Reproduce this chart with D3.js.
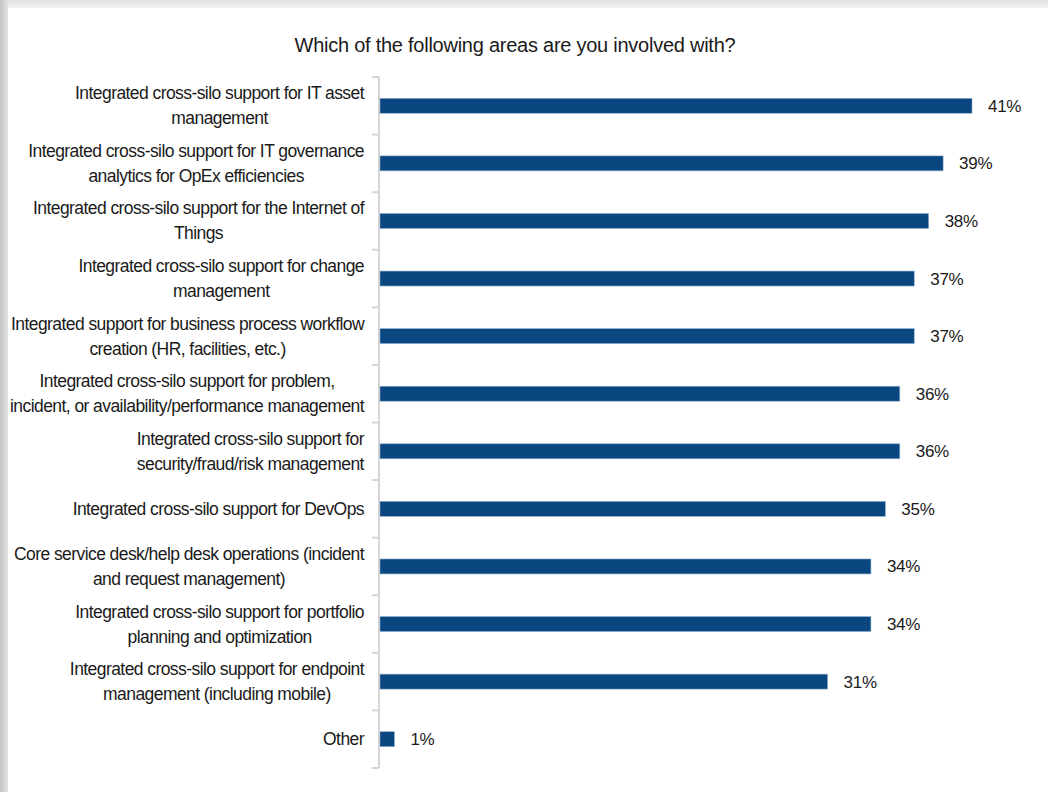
<!DOCTYPE html>
<html>
<head>
<meta charset="utf-8">
<script src="https://cdn.jsdelivr.net/npm/d3@7"></script>
<style>
	body { margin: 0; background: #ffffff; }
	svg { display: block; }
	text { font-family: "Liberation Sans", Arial, sans-serif; fill: #1a1a1a; }
</style>
</head>
<body>
<div id="chart"></div>
<script>
//Data
const chartTitle = "Which of the following areas are you involved with?";
const categories = [
	["Integrated cross-silo support for IT asset", "management"],
	["Integrated cross-silo support for IT governance", "analytics for OpEx efficiencies"],
	["Integrated cross-silo support for the Internet of", "Things"],
	["Integrated cross-silo support for change", "management"],
	["Integrated support for business process workflow", "creation (HR, facilities, etc.)"],
	["Integrated cross-silo support for problem,", "incident, or availability/performance management"],
	["Integrated cross-silo support for", "security/fraud/risk management"],
	["Integrated cross-silo support for DevOps"],
	["Core service desk/help desk operations (incident", "and request management)"],
	["Integrated cross-silo support for portfolio", "planning and optimization"],
	["Integrated cross-silo support for endpoint", "management (including mobile)"],
	["Other"]
];
const values = [41, 39, 38, 37, 37, 36, 36, 35, 34, 34, 31, 1];

//Constants
const width = 1048, height = 792;
const axisX = 380, labelRight = 364;
const barColor = "#0a467f";

let svg = d3.select("#chart").append("svg")
	.attr("width", width)
	.attr("height", height);

	//panel with a soft shadow on top/left
let defs = svg.append("defs");
let grad = defs.append("linearGradient").attr("id", "topShade").attr("x1", 0).attr("y1", 0).attr("x2", 0).attr("y2", 1);
grad.append("stop").attr("offset", "0%").attr("stop-color", "#e0e0e0");
grad.append("stop").attr("offset", "100%").attr("stop-color", "#f2f2f2");
let gradL = defs.append("linearGradient").attr("id", "leftShade").attr("x1", 0).attr("y1", 0).attr("x2", 1).attr("y2", 0);
gradL.append("stop").attr("offset", "0%").attr("stop-color", "#c4c4c4");
gradL.append("stop").attr("offset", "100%").attr("stop-color", "#e2e2e2");

svg.append("rect").attr("x", 0).attr("y", 0).attr("width", width).attr("height", 8).style("fill", "url(#topShade)");
svg.append("rect").attr("x", 0).attr("y", 0).attr("width", 8).attr("height", height).style("fill", "url(#leftShade)");
svg.append("rect").attr("x", 8).attr("y", 8).attr("width", width).attr("height", height).style("fill", "#ffffff");

	//Scales
let xScale = d3.scaleLinear().domain([0, 41]).range([axisX, 972]);
let yScale = d3.scaleBand()
	.domain(d3.range(categories.length))
	.range([77, 768])
	.paddingInner(0.74)
	.paddingOuter(0.37);

svg.append("text")
	.attr("x", 515)
	.attr("y", 52)
	.attr("text-anchor", "middle")
	.style("font-size", "20px")
	.style("letter-spacing", "-0.25px")
	.text(chartTitle);

	//Axis line with boundary ticks
let step = yScale.step();
let axisG = svg.append("g").style("stroke", "#d6d6d6").style("stroke-width", 2).style("fill", "none");
axisG.append("line").attr("x1", axisX - 1).attr("x2", axisX - 1).attr("y1", 77).attr("y2", 768);
axisG.selectAll("line.tick")
	.data(d3.range(categories.length + 1))
	.enter()
	.append("line")
	.attr("class", "tick")
	.attr("x1", axisX - 8)
	.attr("x2", axisX - 1)
	.attr("y1", d => 77 + d * step)
	.attr("y2", d => 77 + d * step);

	//Bars
svg.selectAll("rect.bar")
	.data(values)
	.enter()
	.append("rect")
	.attr("class", "bar")
	.attr("x", xScale(0))
	.attr("y", (d, i) => yScale(i))
	.attr("width", d => xScale(d) - xScale(0))
	.attr("height", yScale.bandwidth())
	.style("fill", barColor)
	.style("stroke", "#8fb0cf")
	.style("stroke-width", 0.6);

svg.selectAll("text.val")
	.data(values)
	.enter()
	.append("text")
	.attr("class", "val")
	.attr("x", d => xScale(d) + 16)
	.attr("y", (d, i) => yScale(i) + yScale.bandwidth() / 2 + 6)
	.style("font-size", "17px")
	.style("letter-spacing", "-0.3px")
	.text(d => d + "%");

	//Category labels: lines centred on each other, block right aligned
let labelG = svg.append("g");
categories.forEach(function(lines, i) {
	let g = labelG.append("g");
	let texts = lines.map(function(line) {
		return g.append("text")
			.style("font-size", "17.5px")
			.style("letter-spacing", "-0.57px")
			.attr("text-anchor", "middle")
			.text(line);
	});
	let maxW = d3.max(texts, t => t.node().getComputedTextLength());
	let cy = yScale(i) + yScale.bandwidth() / 2;
	let lineH = 25;
	let top = cy - (lines.length - 1) * lineH / 2;
	texts.forEach(function(t, j) {
		t.attr("x", labelRight - maxW / 2).attr("y", top + j * lineH + 6);
	});
});
</script>
</body>
</html>
